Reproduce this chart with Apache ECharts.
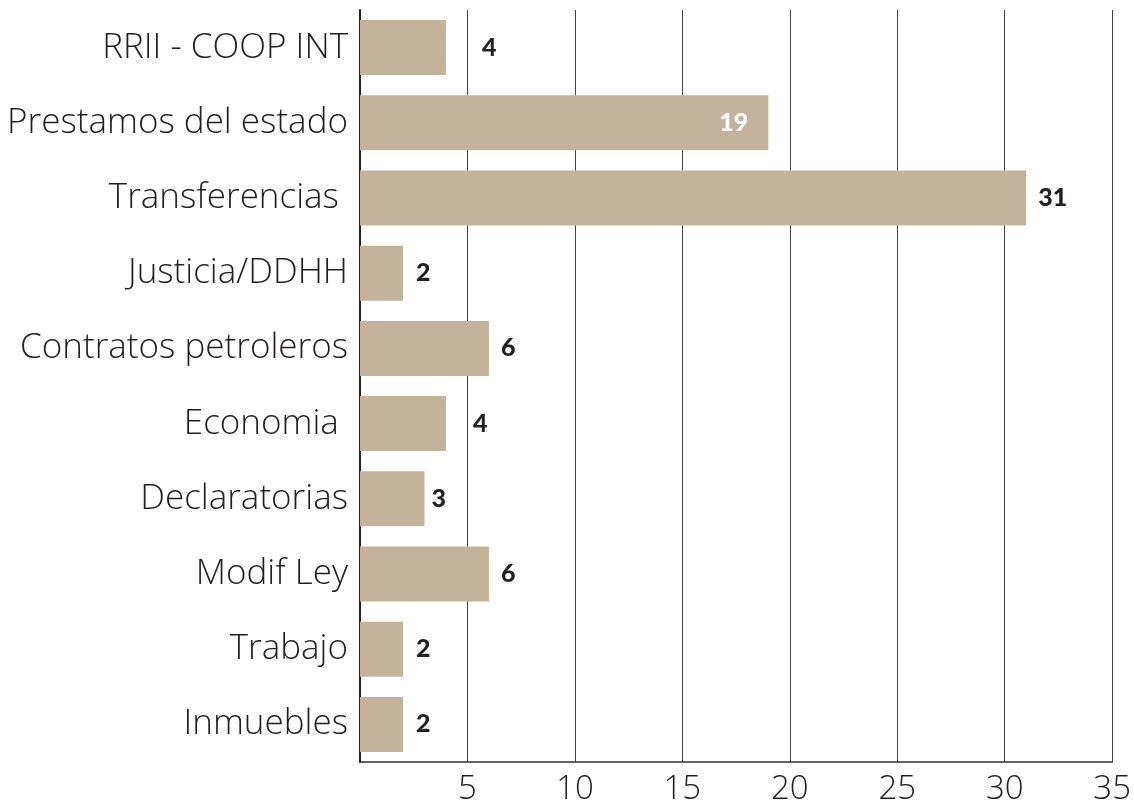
<!DOCTYPE html>
<html>
<head>
<meta charset="utf-8">
<script src="https://cdn.jsdelivr.net/npm/echarts@6/dist/echarts.min.js"></script>
<style>
  html, body { margin: 0; padding: 0; background: #fff; }
  #chart { width: 1134px; height: 806px; }
</style>
</head>
<body>
<div id="chart"></div>
<script>
// categorias de arriba hacia abajo
const categorias = [
  'RRII - COOP INT',
  'Prestamos del estado',
  'Transferencias ',
  'Justicia/DDHH',
  'Contratos petroleros',
  'Economia ',
  'Declaratorias',
  'Modif Ley',
  'Trabajo',
  'Inmuebles',
]
const valores = [4, 19, 31, 2, 6, 4, 3, 6, 2, 2]
const ticksX = [5, 10, 15, 20, 25, 30, 35]

// separacion de la etiqueta respecto a la barra (px)
const separacion = [36, 20, 12, 13, 12, 27, 7, 12, 13, 13]

const colorBarra = '#c4b39b'
const chart = echarts.init(document.getElementById('chart'))

const datos = valores.map((v, i) => {
  const dentro = v === 19
  return {
    value: v,
    label: {
      position: dentro ? 'insideRight' : 'right',
      distance: separacion[i],
      color: dentro ? '#ffffff' : '#231f20',
    },
  }
})

const option = {
  backgroundColor: '#ffffff',
  animation: false,
  grid: {
    left: 360,
    right: 20,
    top: 10,
    bottom: 43,
  },
  xAxis: {
    type: 'value',
    min: 0,
    max: 35,
    interval: 5,
    axisLine: { show: true, lineStyle: { color: '#333', width: 1.5 } },
    axisTick: { show: false },
    axisLabel: {
      showMinLabel: false,
      margin: 11,
      fontFamily: 'Open Sans',
      fontWeight: 300,
      fontSize: 33,
      color: '#231f20',
      formatter: v => (ticksX.includes(v) ? String(v) : ''),
    },
    splitLine: { show: true, lineStyle: { color: '#444', width: 1 } },
  },
  yAxis: {
    type: 'category',
    inverse: true,
    data: categorias,
    axisLine: { show: true, lineStyle: { color: '#231f20', width: 2 } },
    axisTick: { show: false },
    axisLabel: {
      margin: 12,
      fontFamily: 'Open Sans',
      fontWeight: 300,
      fontSize: 35,
      color: '#231f20',
    },
  },
  series: [
    {
      type: 'bar',
      data: datos,
      barWidth: 55,
      itemStyle: { color: colorBarra },
      label: {
        show: true,
        fontFamily: 'Lato',
        fontWeight: 900,
        fontSize: 25,
      },
    },
  ],
}

chart.setOption(option)
</script>
</body>
</html>
